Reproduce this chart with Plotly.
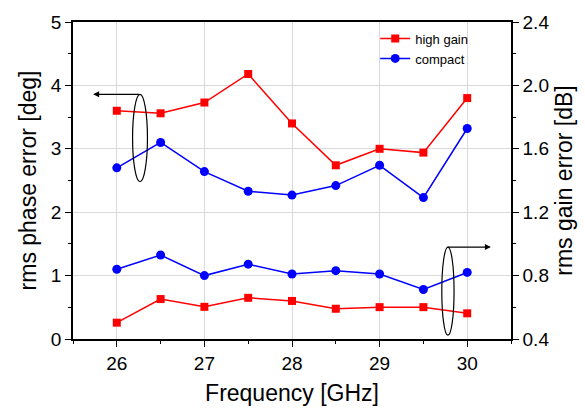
import plotly.graph_objects as go

# Frequency points (GHz)
freq = [26, 26.5, 27, 27.5, 28, 28.5, 29, 29.5, 30]

# rms phase error [deg] (left axis)
phase_high_gain = [3.60, 3.56, 3.73, 4.18, 3.40, 2.74, 3.00, 2.94, 3.80]
phase_compact = [2.70, 3.10, 2.64, 2.33, 2.27, 2.42, 2.74, 2.23, 3.32]

# rms gain error [dB] (right axis)
gain_high_gain = [0.503, 0.652, 0.603, 0.660, 0.640, 0.591, 0.601, 0.601, 0.562]
gain_compact = [0.840, 0.930, 0.800, 0.872, 0.810, 0.831, 0.810, 0.712, 0.820]

RED = "#ff0000"
BLUE = "#0000ff"
FONT = "Arial, Liberation Sans, sans-serif"

fig = go.Figure()

fig.add_trace(go.Scatter(x=freq, y=phase_high_gain, name="high gain", mode="lines+markers",
                         line=dict(color=RED, width=1.5),
                         marker=dict(symbol="square", size=8, color=RED)))
fig.add_trace(go.Scatter(x=freq, y=phase_compact, name="compact", mode="lines+markers",
                         line=dict(color=BLUE, width=1.5),
                         marker=dict(symbol="circle", size=9, color=BLUE)))
fig.add_trace(go.Scatter(x=freq, y=gain_high_gain, yaxis="y2", showlegend=False, mode="lines+markers",
                         line=dict(color=RED, width=1.5),
                         marker=dict(symbol="square", size=8, color=RED)))
fig.add_trace(go.Scatter(x=freq, y=gain_compact, yaxis="y2", showlegend=False, mode="lines+markers",
                         line=dict(color=BLUE, width=1.5),
                         marker=dict(symbol="circle", size=9, color=BLUE)))

# Ellipses grouping the curves, with arrows pointing to their axes
fig.add_shape(type="circle", xref="x", yref="y", x0=26.18, x1=26.35, y0=2.48, y1=3.86,
              line=dict(color="black", width=1.2))
fig.add_shape(type="circle", xref="x", yref="y", x0=29.71, x1=29.85, y0=0.06, y1=1.45,
              line=dict(color="black", width=1.2))
fig.add_annotation(x=25.73, y=3.86, ax=26.27, ay=3.86, xref="x", yref="y", axref="x", ayref="y",
                   text="", showarrow=True, arrowhead=2, arrowsize=1, arrowwidth=1.2, arrowcolor="black")
fig.add_annotation(x=30.27, y=1.45, ax=29.76, ay=1.45, xref="x", yref="y", axref="x", ayref="y",
                   text="", showarrow=True, arrowhead=2, arrowsize=1, arrowwidth=1.2, arrowcolor="black")

fig.update_layout(
    width=585, height=414,
    margin=dict(l=73, r=73, t=20, b=70),
    paper_bgcolor="white", plot_bgcolor="white",
    font=dict(family=FONT, color="black", size=19),
    xaxis=dict(
        range=[25.5, 30.5], tickvals=[26, 27, 28, 29, 30],
        ticks="outside", ticklen=6, tickwidth=1, tickcolor="black",
        minor=dict(ticks="outside", dtick=0.5, tick0=25.5, ticklen=3, tickcolor="black", showgrid=False),
        showline=True, linecolor="black", linewidth=1.5, mirror=True,
        showgrid=True, gridcolor="#d9d9d9", gridwidth=1, zeroline=False,
        title=dict(text="Frequency [GHz]", font=dict(size=23), standoff=12),
        tickfont=dict(size=19),
    ),
    yaxis=dict(
        range=[0, 5], dtick=1,
        ticks="outside", ticklen=6, tickwidth=1, tickcolor="black",
        minor=dict(ticks="outside", dtick=0.5, ticklen=3, tickcolor="black", showgrid=False),
        showline=True, linecolor="black", linewidth=1.5,
        showgrid=True, gridcolor="#d9d9d9", gridwidth=1, zeroline=False,
        title=dict(text="rms phase error [deg]", font=dict(size=23), standoff=8),
        tickfont=dict(size=19),
    ),
    yaxis2=dict(
        overlaying="y", side="right",
        range=[0.4, 2.4], dtick=0.4, tickformat=".1f",
        ticks="outside", ticklen=6, tickwidth=1, tickcolor="black",
        minor=dict(ticks="outside", dtick=0.2, ticklen=3, tickcolor="black", showgrid=False),
        showline=True, linecolor="black", linewidth=1.5,
        showgrid=False, zeroline=False,
        title=dict(text="rms gain error [dB]", font=dict(size=23), standoff=8),
        tickfont=dict(size=19),
    ),
    legend=dict(
        x=0.69, y=0.995, xanchor="left", yanchor="top",
        bgcolor="rgba(0,0,0,0)", font=dict(size=13),
        itemwidth=30, tracegroupgap=0,
    ),
)

fig.write_html("out.html")
